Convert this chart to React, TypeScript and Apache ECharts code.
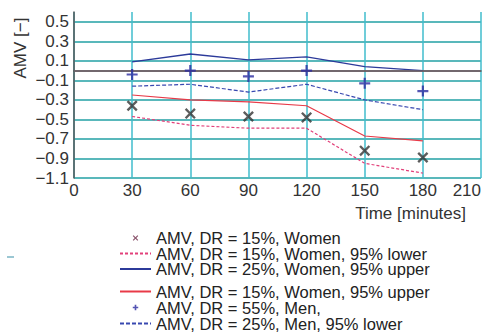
import React, { useEffect, useRef } from "react";
import * as echarts from "echarts";

const times = [30, 60, 90, 120, 150, 180];
const womenAMV15 = [-0.36, -0.44, -0.47, -0.48, -0.82, -0.89];
const womenLower15 = [-0.47, -0.56, -0.59, -0.59, -0.95, -1.05];
const womenUpper25 = [0.09, 0.17, 0.11, 0.14, 0.04, 0.0];
const womenUpper15 = [-0.25, -0.3, -0.32, -0.36, -0.67, -0.72];
const menAMV55 = [-0.04, 0.0, -0.06, 0.0, -0.13, -0.21];
const menLower25 = [-0.16, -0.14, -0.22, -0.14, -0.3, -0.4];

const names = [
  "AMV, DR = 15%, Women",
  "AMV, DR = 15%, Women, 95% lower",
  "AMV, DR = 25%, Women, 95% upper",
  "AMV, DR = 15%, Women, 95% upper",
  "AMV, DR = 55%, Men,",
  "AMV, DR = 25%, Men, 95% lower",
];

const X_PATH =
  "M1.5,0L5,3.5L8.5,0L10,1.5L6.5,5L10,8.5L8.5,10L5,6.5L1.5,10L0,8.5L3.5,5L0,1.5Z";
const PLUS_PATH = "M4,0H6V4H10V6H6V10H4V6H0V4H4Z";
const PLUS_THICK = "M3.5,0H6.5V3.5H10V6.5H6.5V10H3.5V6.5H0V3.5H3.5Z";
const PAD = "M-6,-6L-6,-6M16,16L16,16";

const pairs = (vals: number[]) => times.map((t, i) => [t, vals[i]]);
const FONT = "Liberation Sans, Arial, sans-serif";

export default function App() {
  const ref = useRef<HTMLDivElement>(null);
  useEffect(() => {
    if (!ref.current) return;
    const chart = echarts.init(ref.current, null, { renderer: "svg" });
    const legendText = { fontSize: 16.5, lineHeight: 15.5, color: "#222", fontFamily: FONT };
    const hidden = { opacity: 0 };
    chart.setOption({
      animation: false,
      grid: { left: 74, right: 7, top: 12, bottom: 156 },
      xAxis: {
        type: "value",
        min: 0,
        max: 210,
        interval: 30,
        axisLine: { lineStyle: { color: "#555", width: 1.5 } },
        axisTick: { show: false },
        axisLabel: {
          fontSize: 17,
          color: "#333",
          fontFamily: FONT,
          margin: 4,
          alignMaxLabel: "right",
        },
        splitLine: { lineStyle: { color: "#40bccc", width: 1.5 } },
      },
      yAxis: {
        type: "value",
        min: -1.1,
        max: 0.6,
        interval: 0.2,
        axisLine: { show: true, lineStyle: { color: "#555", width: 1.5 } },
        axisTick: { show: false },
        axisLabel: {
          fontSize: 17,
          color: "#333",
          fontFamily: FONT,
          margin: 5,
          showMaxLabel: false,
          formatter: (v: number) => v.toFixed(1).replace("-", "\u2212"),
        },
        splitLine: { showMaxLine: false, lineStyle: { color: "#22a0a4", width: 1.5 } },
      },
      legend: [
        {
          orient: "vertical",
          left: 119,
          top: 229.5,
          height: 90,
          padding: 0,
          itemWidth: 31,
          itemHeight: 12,
          itemGap: -1.5,
          textStyle: legendText,
          data: [
            { name: names[0], icon: "path://" + PAD + X_PATH, itemStyle: { color: "#6a2444" } },
            { name: names[1], itemStyle: hidden },
            { name: names[2], itemStyle: hidden },
          ],
        },
        {
          orient: "vertical",
          left: 119,
          top: 283,
          height: 90,
          padding: 0,
          itemWidth: 31,
          itemHeight: 12,
          itemGap: -1,
          textStyle: legendText,
          data: [
            { name: names[3], itemStyle: hidden },
            { name: names[4], icon: "path://" + PAD + PLUS_THICK },
            { name: names[5], itemStyle: hidden },
          ],
        },
      ],
      graphic: [
        {
          type: "text",
          x: 20,
          y: 48,
          rotation: Math.PI / 2,
          style: {
            text: "AMV [\u2212]",
            align: "center",
            verticalAlign: "middle",
            fontSize: 17,
            fontFamily: FONT,
            fill: "#333",
          },
        },
        {
          type: "text",
          x: 466,
          y: 213,
          style: {
            text: "Time [minutes]",
            align: "right",
            verticalAlign: "middle",
            fontSize: 17,
            fontFamily: FONT,
            fill: "#333",
          },
        },
        {
          type: "line",
          shape: { x1: 7, y1: 257, x2: 14, y2: 257 },
          style: { stroke: "#7ab4c4", lineWidth: 1.5 },
        },
      ],
      series: [
        {
          name: names[0],
          type: "scatter",
          data: pairs(womenAMV15),
          symbol: "path://" + X_PATH,
          symbolSize: 11,
          itemStyle: { color: "#333" },
          z: 5,
          markLine: {
            silent: true,
            symbol: "none",
            label: { show: false },
            lineStyle: { color: "#6e6068", width: 1.5, type: "solid" },
            data: [{ yAxis: 0 }],
          },
        },
        {
          name: names[1],
          type: "line",
          data: pairs(womenLower15),
          symbol: "none",
          itemStyle: { color: "#e2407a" },
          lineStyle: { color: "#e2407a", width: 1.2, type: [3, 2] },
        },
        {
          name: names[2],
          type: "line",
          data: pairs(womenUpper25),
          symbol: "none",
          itemStyle: { color: "#2c3a9a" },
          lineStyle: { color: "#2c3a9a", width: 1.3 },
        },
        {
          name: names[3],
          type: "line",
          data: pairs(womenUpper15),
          symbol: "none",
          itemStyle: { color: "#e83a48" },
          lineStyle: { color: "#e83a48", width: 1.2 },
        },
        {
          name: names[4],
          type: "scatter",
          data: pairs(menAMV55),
          symbol: "path://" + PLUS_PATH,
          symbolSize: 11,
          itemStyle: { color: "#2a2aa0" },
          z: 5,
        },
        {
          name: names[5],
          type: "line",
          data: pairs(menLower25),
          symbol: "none",
          itemStyle: { color: "#3848b0" },
          lineStyle: { color: "#3848b0", width: 1.2, type: [4, 2] },
        },
      ],
    });
    return () => chart.dispose();
  }, []);
  return (
    <div
      ref={ref}
      style={{ position: "absolute", left: 0, top: 0, width: 488, height: 334 }}
    />
  );
}
